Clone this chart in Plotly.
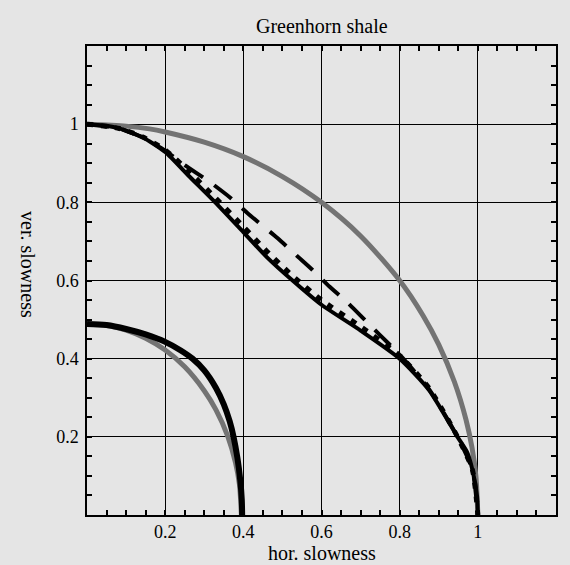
import plotly.graph_objects as go

# Outer gray curve (reference circle)
gray_outer_x = [0.0, 0.1, 0.16, 0.2, 0.3, 0.4, 0.5, 0.6, 0.7, 0.8, 0.86, 0.9, 0.94, 0.97, 0.985, 0.995, 1.0]
gray_outer_y = [1.0, 0.995, 0.988, 0.98, 0.954, 0.917, 0.866, 0.8, 0.714, 0.6, 0.51, 0.436, 0.341, 0.243, 0.173, 0.1, 0.0]

# Outer black curve (exact)
black_outer_x = [0.0, 0.05, 0.083, 0.143, 0.2, 0.26, 0.328, 0.4, 0.46, 0.526, 0.6, 0.7, 0.8, 0.875, 0.948, 0.973, 0.986, 0.998, 1.0]
black_outer_y = [1.0, 0.996, 0.989, 0.966, 0.929, 0.868, 0.8, 0.724, 0.66, 0.6, 0.538, 0.472, 0.4, 0.32, 0.2, 0.16, 0.116, 0.048, 0.0]

# Dashed approximation
dashed_x = [0.0, 0.083, 0.143, 0.2, 0.25, 0.317, 0.369, 0.411, 0.488, 0.535, 0.577, 0.621, 0.664, 0.711, 0.749, 0.8, 0.875, 0.948, 0.986, 1.0]
dashed_y = [1.0, 0.989, 0.966, 0.932, 0.895, 0.850, 0.810, 0.772, 0.708, 0.665, 0.627, 0.584, 0.546, 0.499, 0.461, 0.41, 0.322, 0.2, 0.116, 0.0]

# Dotted approximation
dotted_x = [0.0, 0.083, 0.143, 0.2, 0.26, 0.328, 0.4, 0.46, 0.526, 0.6, 0.7, 0.8, 0.875, 0.948, 0.986, 1.0]
dotted_y = [1.0, 0.989, 0.967, 0.934, 0.88, 0.812, 0.738, 0.675, 0.612, 0.55, 0.482, 0.408, 0.325, 0.2, 0.116, 0.0]

# Inner gray curve
gray_inner_x = [0.0, 0.05, 0.1, 0.15, 0.2, 0.25, 0.3, 0.33, 0.36, 0.38, 0.39, 0.395]
gray_inner_y = [0.488, 0.485, 0.473, 0.452, 0.422, 0.379, 0.318, 0.269, 0.202, 0.134, 0.078, 0.0]

# Inner black curve
black_inner_x = [0.0, 0.05, 0.1, 0.15, 0.2, 0.24, 0.27, 0.3, 0.33, 0.35, 0.365, 0.375, 0.385, 0.392, 0.396, 0.397]
black_inner_y = [0.489, 0.486, 0.476, 0.462, 0.443, 0.421, 0.4, 0.37, 0.325, 0.283, 0.24, 0.2, 0.145, 0.09, 0.04, 0.0]

tick_vals = [0.2, 0.4, 0.6, 0.8, 1.0]
tick_text = ["0.2", "0.4", "0.6", "0.8", "1"]

GRAY = "#737373"
BG = "#e5e5e5"
FONT = "Liberation Serif"

fig = go.Figure()
fig.add_trace(go.Scatter(x=gray_outer_x, y=gray_outer_y, mode="lines",
                         line=dict(color=GRAY, width=5, shape="spline", smoothing=0.8)))
fig.add_trace(go.Scatter(x=gray_inner_x, y=gray_inner_y, mode="lines",
                         line=dict(color=GRAY, width=5, shape="spline", smoothing=0.8)))
fig.add_trace(go.Scatter(x=dashed_x, y=dashed_y, mode="lines",
                         line=dict(color="black", width=4, dash="22px,14px", shape="spline", smoothing=0.6)))
fig.add_trace(go.Scatter(x=dotted_x, y=dotted_y, mode="lines",
                         line=dict(color="black", width=5, dash="6px,8px", shape="spline", smoothing=0.6)))
fig.add_trace(go.Scatter(x=black_outer_x, y=black_outer_y, mode="lines",
                         line=dict(color="black", width=4, shape="spline", smoothing=0.6)))
fig.add_trace(go.Scatter(x=black_inner_x, y=black_inner_y, mode="lines",
                         line=dict(color="black", width=6, shape="spline", smoothing=0.8)))

axis_common = dict(
    range=[0, 1.2], tickvals=tick_vals, ticktext=tick_text,
    showgrid=True, gridcolor="black", gridwidth=1,
    showline=True, linecolor="black", linewidth=1.5, mirror="allticks",
    ticks="inside", ticklen=0, tickcolor="black",
    zeroline=False, fixedrange=True,
    tickfont=dict(family=FONT, size=18, color="black"),
    minor=dict(dtick=0.05, tick0=0, ticks="inside", ticklen=5, tickwidth=1.5,
               tickcolor="black", showgrid=False),
)

fig.update_xaxes(**axis_common, ticklabelstandoff=0)
fig.update_yaxes(**axis_common, ticklabelstandoff=3)

fig.update_layout(
    width=570, height=565,
    margin=dict(l=87, r=12, t=46, b=50),
    paper_bgcolor=BG, plot_bgcolor=BG,
    showlegend=False,
    font=dict(family=FONT, color="black"),
    annotations=[
        dict(text="Greenhorn shale", x=0.5, y=1, xref="paper", yref="paper",
             yshift=20, showarrow=False, font=dict(family=FONT, size=20, color="black"),
             xanchor="center", yanchor="middle"),
        dict(text="hor. slowness", x=0.5, y=0, xref="paper", yref="paper",
             yshift=-38, showarrow=False, font=dict(family=FONT, size=20, color="black"),
             xanchor="center", yanchor="middle"),
        dict(text="ver. slowness", x=0, y=0.535, xref="paper", yref="paper",
             xshift=-59, showarrow=False, textangle=90,
             font=dict(family=FONT, size=20, color="black"),
             xanchor="center", yanchor="middle"),
    ],
)

fig.write_html(
    "out.html",
    config={"displayModeBar": False},
    post_script=(
        "document.body.style.margin='0';"
        "document.body.style.background='#e5e5e5';"
        "document.documentElement.style.background='#e5e5e5';"
    ),
)
